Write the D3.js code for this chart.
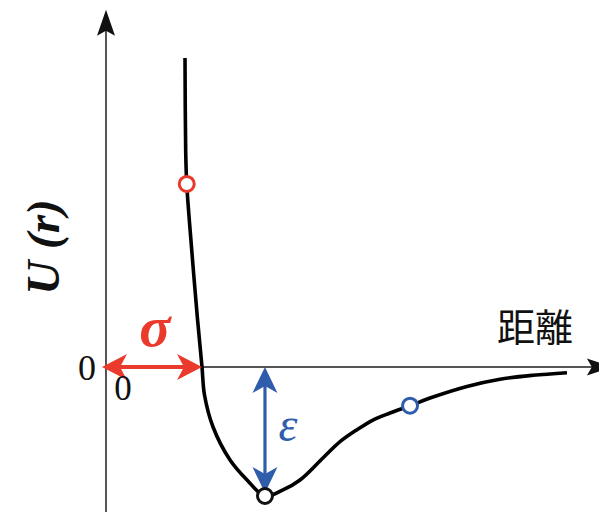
<!DOCTYPE html>
<html>
<head>
<meta charset="utf-8">
<script src="https://cdn.jsdelivr.net/npm/d3@7/dist/d3.min.js"></script>
<style>
  html, body { margin: 0; padding: 0; background: #fff; }
  svg { display: block; }
</style>
</head>
<body>
<script>
// Potential energy U(r) against distance r (σ = 1, ε = 1 units)
const distance  = [0.823, 0.830, 0.841, 0.893, 0.951, 1.000, 1.026, 1.115, 1.292, 1.469, 1.656, 1.844, 2.021, 2.260, 2.438, 2.611, 2.781, 2.958, 3.167, 3.406, 3.760, 4.104, 4.448, 4.802];
const potential = [2.395, 1.682, 1.419, 0.907, 0.388, 0.000, -0.217, -0.465, -0.721, -0.876, -1.000, -0.953, -0.876, -0.705, -0.579, -0.488, -0.411, -0.357, -0.300, -0.233, -0.151, -0.095, -0.064, -0.044];

// highlighted states on the curve
const markerR     = [0.841, 1.656, 3.167];
const markerU     = [1.419, -1.0, -0.300];
const markerColor = ["#e8392b", "#111111", "#2f5dab"];

const sigma = 1.0;      // zero crossing
const rMin = 1.656;     // position of the well
const epsilon = 1.0;    // well depth

const axisXEnd = 5.28;
const axisYTop = 2.77;
const axisYBottom = -1.2;

const tickLabels = ["0", "0"];
const xTitle = "距離";
const sigmaLabel = "σ";
const epsLabel = "ε";

const W = 599, H = 512;
const x = d3.scaleLinear().domain([0, 5]).range([106, 586]);
const y = d3.scaleLinear().domain([-1, 0]).range([496, 367]);

const svg = d3.select("body").append("svg").attr("width", W).attr("height", H);

function arrowHead(g, tx, ty, angleDeg, len, half, notch, color) {
  const p = `M0,0 L${-len},${-half} L${-len + notch},0 L${-len},${half} Z`;
  g.append("path").attr("d", p).attr("fill", color)
    .attr("transform", `translate(${tx},${ty}) rotate(${angleDeg})`);
}

// axes
const axes = svg.append("g");
axes.append("line")
  .attr("x1", x(0)).attr("x2", x(0))
  .attr("y1", y(axisYBottom)).attr("y2", y(axisYTop) + 18)
  .attr("stroke", "#555").attr("stroke-width", 2);
arrowHead(axes, x(0), y(axisYTop), -90, 26, 9, 5, "#111");
axes.append("line")
  .attr("x1", x(0)).attr("x2", x(axisXEnd) - 18)
  .attr("y1", y(0)).attr("y2", y(0))
  .attr("stroke", "#555").attr("stroke-width", 2);
arrowHead(axes, x(axisXEnd), y(0), 0, 26, 8.5, 5, "#111");

// potential curve
const pts = distance.map((d, i) => [d, potential[i]]);
const line = d3.line().x(d => x(d[0])).y(d => y(d[1])).curve(d3.curveCatmullRom.alpha(0.5));
svg.append("path").attr("d", line(pts))
  .attr("fill", "none").attr("stroke", "#000").attr("stroke-width", 3.6)
  .attr("stroke-linecap", "butt");

// sigma arrow (double headed, red)
const red = "#ea3a2c";
const sg = svg.append("g");
sg.append("line")
  .attr("x1", x(0) - 4 + 16).attr("x2", x(sigma) - 16)
  .attr("y1", y(0)).attr("y2", y(0))
  .attr("stroke", red).attr("stroke-width", 4);
arrowHead(sg, x(sigma), y(0), 0, 25, 13, 7, red);
arrowHead(sg, x(0) - 4, y(0), 180, 25, 13, 7, red);

// epsilon arrow (double headed, blue)
const blue = "#2f5dab";
const eg = svg.append("g");
eg.append("line")
  .attr("x1", x(rMin)).attr("x2", x(rMin))
  .attr("y1", y(0) + 18).attr("y2", y(-epsilon) - 22)
  .attr("stroke", blue).attr("stroke-width", 3.2);
arrowHead(eg, x(rMin), y(0), -90, 26, 12.5, 7, blue);
arrowHead(eg, x(rMin), y(-epsilon) - 3, 90, 26, 12.5, 7, blue);

// markers
svg.append("g").selectAll("circle")
  .data(markerR.map((r, i) => ({ r, u: markerU[i], c: markerColor[i] })))
  .join("circle")
  .attr("cx", d => x(d.r)).attr("cy", d => y(d.u))
  .attr("r", 7.5).attr("fill", "#fff")
  .attr("stroke", d => d.c).attr("stroke-width", 3);

// text
const serif = "'Liberation Serif', 'DejaVu Serif', serif";
svg.append("text").text(tickLabels[0])
  .attr("x", 87).attr("y", 380).attr("text-anchor", "middle")
  .attr("font-family", serif).attr("font-size", 36).attr("fill", "#111");
svg.append("text").text(tickLabels[1])
  .attr("x", 123).attr("y", 400).attr("text-anchor", "middle")
  .attr("font-family", serif).attr("font-size", 35).attr("fill", "#111");

svg.append("text").text(xTitle)
  .attr("x", 535).attr("y", 341).attr("text-anchor", "middle")
  .attr("font-family", "'Noto Sans CJK JP', sans-serif").attr("font-size", 38)
  .attr("fill", "#111");

svg.append("text")
  .attr("transform", "translate(59,247) rotate(-90)")
  .attr("text-anchor", "middle")
  .attr("font-family", serif).attr("font-size", 47)
  .attr("font-style", "italic").attr("font-weight", "bold").attr("fill", "#111")
  .text("U (r)");

svg.append("text").text(sigmaLabel)
  .attr("x", (x(0) + x(sigma)) / 2 + 1).attr("y", 346).attr("text-anchor", "middle")
  .attr("font-family", serif).attr("font-size", 58)
  .attr("font-style", "italic").attr("font-weight", "bold").attr("fill", red);

svg.append("text").text(epsLabel)
  .attr("x", 288).attr("y", 441).attr("text-anchor", "middle")
  .attr("font-family", serif).attr("font-size", 48)
  .attr("font-style", "italic").attr("fill", blue);
</script>
</body>
</html>
